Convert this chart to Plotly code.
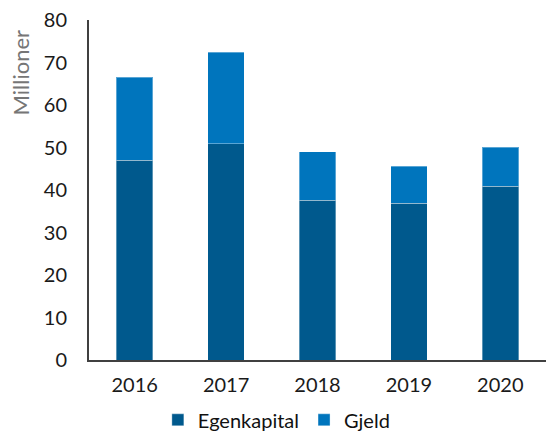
import plotly.graph_objects as go

years = ["2016", "2017", "2018", "2019", "2020"]
egenkapital = [47.0, 50.9, 37.6, 36.9, 40.9]
gjeld = [19.5, 21.5, 11.4, 8.7, 9.2]
y_ticks = [0, 10, 20, 30, 40, 50, 60, 70, 80]

FONT = "Lato, 'Open Sans', sans-serif"

fig = go.Figure()
fig.add_trace(go.Bar(
    x=years, y=egenkapital, name="Egenkapital",
    marker=dict(color="#00598D", line=dict(color="rgba(255,255,255,0.35)", width=1)),
))
fig.add_trace(go.Bar(
    x=years, y=gjeld, name="Gjeld",
    marker=dict(color="#0075BD", line=dict(color="rgba(255,255,255,0.35)", width=1)),
))

fig.update_layout(
    barmode="stack",
    bargap=0.6,
    width=546, height=434,
    margin=dict(l=89, r=0, t=20, b=74, autoexpand=False),
    paper_bgcolor="white", plot_bgcolor="white",
    font=dict(family=FONT, size=20, color="#1a1a1a"),
    showlegend=True,
    legend=dict(orientation="h", x=0.41, xanchor="center", y=-0.176, yanchor="middle",
                font=dict(size=20, color="#111111"), traceorder="normal", itemwidth=30),
    xaxis=dict(showline=True, linecolor="#404040", linewidth=2, ticks="",
               showgrid=False, ticklabelstandoff=6),
    yaxis=dict(range=[0, 80], tickvals=y_ticks, showline=True, linecolor="#404040",
               linewidth=2, showgrid=False, zeroline=False, ticks="",
               ticklabelstandoff=16),
    annotations=[dict(text="Millioner", textangle=-90, xref="paper", yref="paper",
                      x=-0.152, y=(360 - 73) / 340, xanchor="center", yanchor="middle",
                      showarrow=False, font=dict(size=22, color="#767676", family=FONT))],
)

fig.write_html("out.html", config={"displayModeBar": False},
               post_script="document.body.style.margin='0';")
